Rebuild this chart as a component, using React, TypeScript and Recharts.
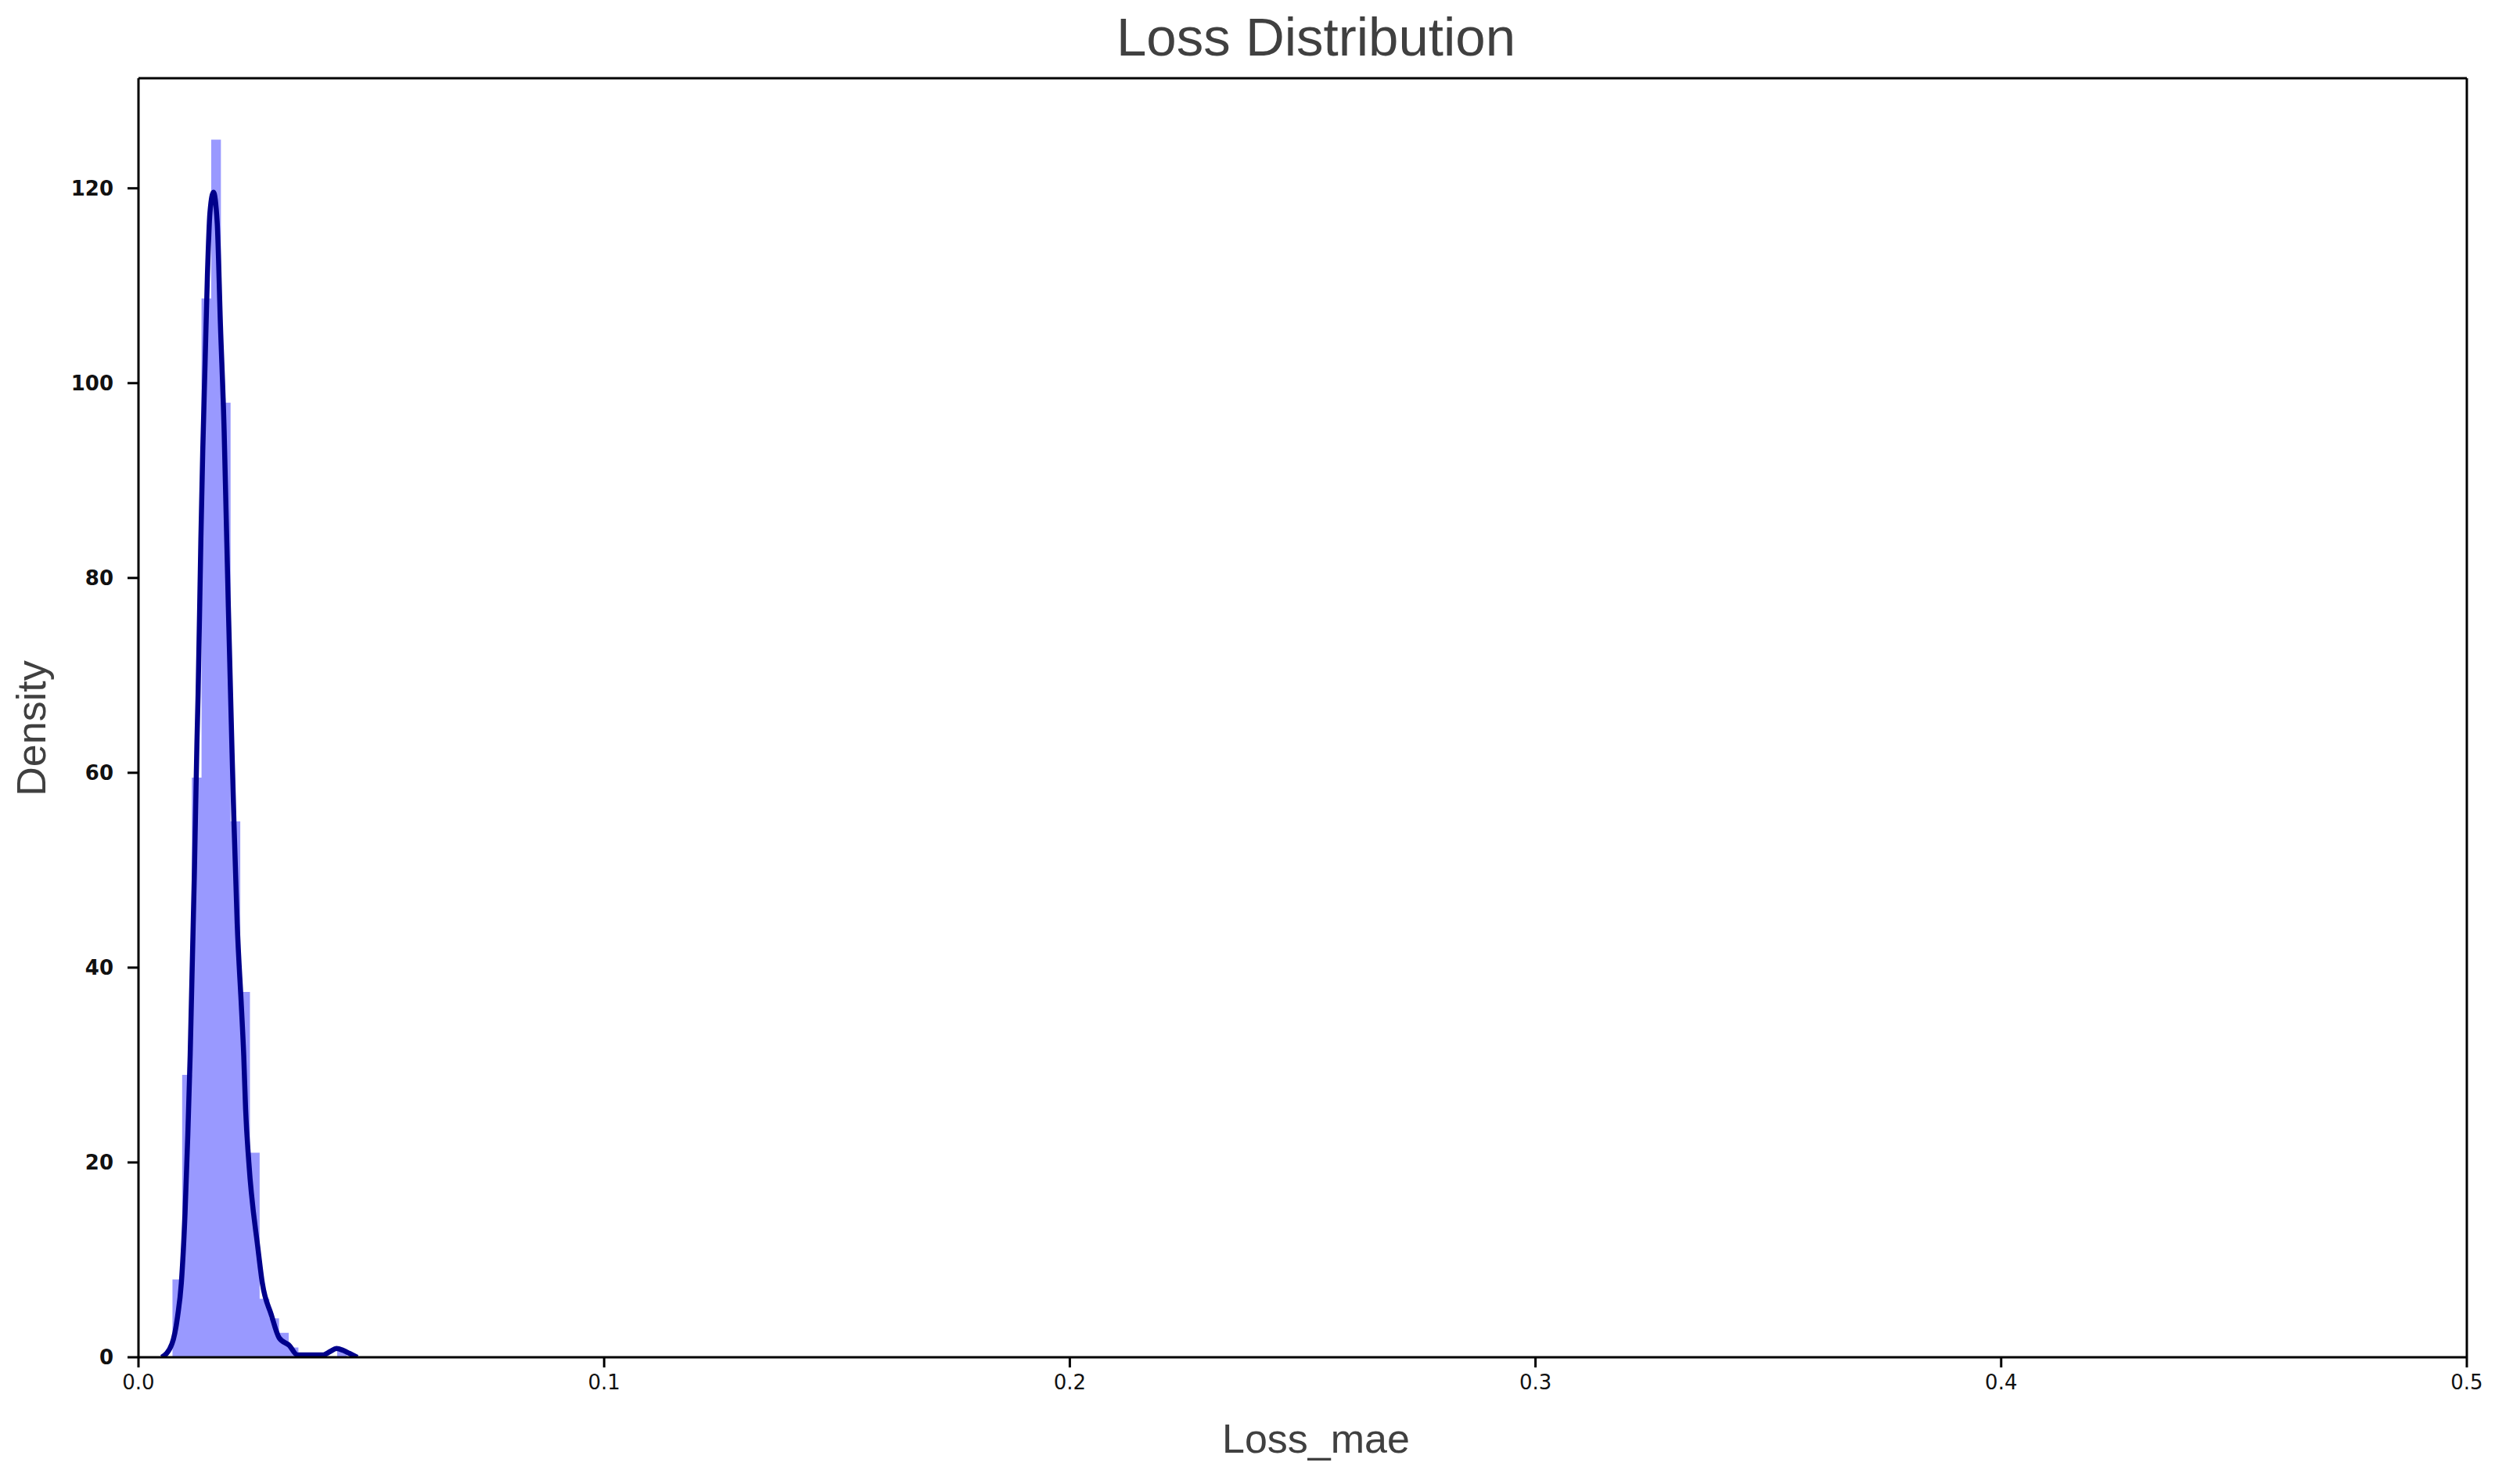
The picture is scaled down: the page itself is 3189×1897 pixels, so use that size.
import React from "react";
import {
  ComposedChart,
  Area,
  Line,
  XAxis,
  YAxis,
  ReferenceLine,
  Label,
} from "recharts";

// histogram bins (density), left edges start at binStart, equal widths
const binStart = 0.0073;
const binWidth = 0.00208;
const binDensity = [8, 29, 59.5, 108.7, 125, 98, 55, 37.5, 21, 6, 4, 2.5, 1, 0, 0, 0, 0, 0.8];

// kde curve
const kdeX = [
  0.005, 0.0072, 0.0084, 0.0092, 0.01, 0.0106, 0.0111, 0.012, 0.01255, 0.0128, 0.0134, 0.0138,
  0.0143, 0.0148, 0.01535, 0.0161, 0.0169, 0.0176, 0.0184, 0.0188, 0.0193, 0.0201, 0.0205, 0.0212,
  0.0221, 0.0226, 0.023, 0.0237, 0.0257, 0.0266, 0.0285, 0.0302, 0.0324, 0.0341, 0.0397, 0.0412,
  0.0425, 0.044, 0.0453, 0.047,
];
const kdeY = [
  0, 1.4, 4.2, 7.6, 14.8, 22.9, 31, 49.6, 63, 68, 84, 93,
  102, 111, 117.5, 119.6, 116.5, 106, 95, 87, 77, 62, 55, 44.5,
  36, 31, 25.5, 20, 11, 7.6, 4.4, 2, 1.2, 0.25, 0.25, 0.6,
  0.9, 0.7, 0.4, 0,
];

const xTicks = [0, 0.1, 0.2, 0.3, 0.4, 0.5];
const yTicks = [0, 20, 40, 60, 80, 100, 120];
const xMax = 0.5;
const yMax = 131.3;

const histData = binDensity
  .map((d, i) => ({ x: binStart + i * binWidth, y: d }))
  .concat([{ x: binStart + binDensity.length * binWidth, y: 0 }]);
const kdeData = kdeX.map((x, i) => ({ x, y: kdeY[i] }));

const W = 3189;
const H = 1897;
const labelFont = "Liberation Sans, Arial, sans-serif";

export default function App() {
  return (
    <div style={{ position: "absolute", left: 0, top: 0, width: W, height: H, background: "#fff" }}>
      <svg width={W} height={110} style={{ position: "absolute", left: 0, top: 0 }}>
        <text x={1682} y={71} textAnchor="middle" fontFamily={labelFont} fontSize={69} fill="#404040">
          Loss Distribution
        </text>
      </svg>
      <ComposedChart width={W} height={H} margin={{ top: 100, right: 36, bottom: 0, left: 0 }}>
        <XAxis
          type="number"
          dataKey="x"
          domain={[0, xMax]}
          ticks={xTicks}
          tickFormatter={(v) => v.toFixed(1)}
          allowDataOverflow
          height={162}
          stroke="#000"
          strokeWidth={3}
          tickSize={13}
          tickMargin={10}
          tick={{ fontFamily: "DejaVu Sans", fontSize: 26, fill: "#111" }}
        >
          <Label
            content={(props: any) => {
              const vb = props.viewBox || {};
              return (
                <text x={1682} y={vb.y + 122} textAnchor="middle" fontFamily={labelFont} fontSize={52} fill="#404040">
                  Loss_mae
                </text>
              );
            }}
          />
        </XAxis>
        <YAxis
          type="number"
          domain={[0, yMax]}
          ticks={yTicks}
          allowDataOverflow
          width={177}
          stroke="#000"
          strokeWidth={3}
          tickSize={14}
          tickMargin={18}
          tick={{ fontFamily: "DejaVu Sans", fontSize: 26, fontWeight: "bold", fill: "#111" }}
        >
          <Label
            content={() => {
              const cx = 58;
              const cy = 931;
              return (
                <text
                  x={cx}
                  y={cy}
                  transform={`rotate(-90, ${cx}, ${cy})`}
                  textAnchor="middle"
                  fontFamily={labelFont}
                  fontSize={52}
                  fill="#404040"
                >
                  Density
                </text>
              );
            }}
          />
        </YAxis>
        <Area
          data={histData}
          dataKey="y"
          type="stepAfter"
          fill="#9999ff"
          fillOpacity={1}
          stroke="none"
          isAnimationActive={false}
        />
        <Line
          data={kdeData}
          dataKey="y"
          type="monotone"
          stroke="#00008b"
          strokeWidth={6.5}
          dot={false}
          isAnimationActive={false}
        />
        <ReferenceLine y={yMax} stroke="#000" strokeWidth={3} />
        <ReferenceLine x={xMax} stroke="#000" strokeWidth={3} />
      </ComposedChart>
    </div>
  );
}
